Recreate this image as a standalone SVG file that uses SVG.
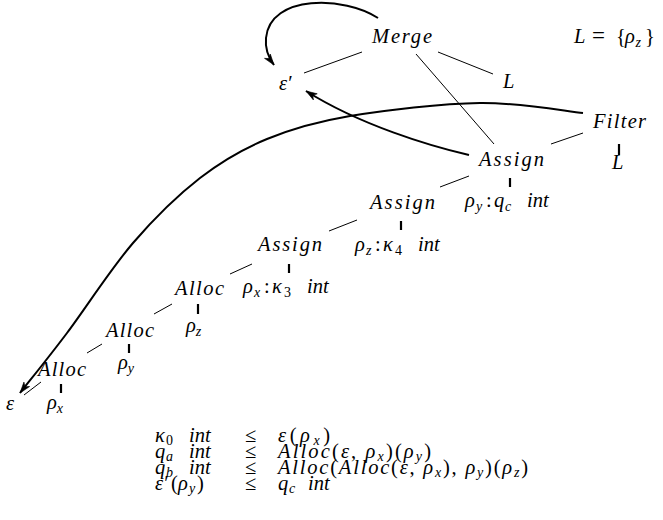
<svg xmlns="http://www.w3.org/2000/svg" width="663" height="520" viewBox="0 0 663 520">
<style>
.t{font-family:"Liberation Serif","Times New Roman",serif;font-style:italic;font-size:20.5px;fill:#000}
.r{font-style:normal}
.s{font-size:14px}
.le{font-size:23px}
.thin{stroke:#000;stroke-width:1;fill:none}
.tick{stroke:#000;stroke-width:2.2;fill:none}
.arr{stroke:#000;stroke-width:2;fill:none;marker-end:url(#ah)}
</style>
<defs>
<marker id="ah" viewBox="-13 -6 14 12" refX="0" refY="0" markerWidth="14" markerHeight="12" markerUnits="userSpaceOnUse" orient="auto">
<path d="M0,0 L-11,-3.6 L-8,0 L-11,3.6 Z" fill="#000" stroke="#000" stroke-width="0.6"/>
</marker>
</defs>
<rect width="663" height="520" fill="#fff"/>
<g id="connectors">
<line class="thin" x1="362" y1="52" x2="304" y2="73"/>
<line class="thin" x1="438" y1="52" x2="493" y2="74"/>
<line class="thin" x1="416" y1="54" x2="494" y2="144"/>
<line class="thin" x1="583" y1="133" x2="551" y2="144"/>
<line class="thin" x1="440" y1="187" x2="469" y2="176"/>
<line class="thin" x1="329" y1="231" x2="357" y2="220"/>
<line class="thin" x1="230" y1="274" x2="252" y2="264"/>
<line class="thin" x1="154" y1="314" x2="172" y2="304"/>
<line class="thin" x1="87" y1="353" x2="102" y2="344"/>
<line class="thin" x1="24" y1="395" x2="41" y2="382"/>
<line class="tick" x1="619" y1="144" x2="619" y2="155"/>
<line class="tick" x1="510" y1="178" x2="510" y2="187"/>
<line class="tick" x1="401" y1="221" x2="401" y2="230"/>
<line class="tick" x1="289" y1="264" x2="289" y2="273"/>
<line class="tick" x1="198" y1="304" x2="198" y2="314"/>
<line class="tick" x1="129" y1="344" x2="129" y2="353"/>
<line class="tick" x1="61" y1="384" x2="61" y2="393"/>
<path class="arr" d="M378,18 C345,-4 270,-6 266,38 C265,48 268,57 274,65"/>
<path class="arr" d="M469,155 C430,146 360,125 306,91"/>
<path class="arr" d="M583,113 C565.8,111.3 518.8,102.5 480,103 C441.2,103.5 385.5,110 350,116 C314.5,122 292,128.7 267,139 C242,149.3 222.3,160.7 200,178 C177.7,195.3 155.2,217.2 133,243 C110.8,268.8 85.8,308 67,333 C48.2,358 27.8,383 20,393"/>
</g>
<g id="merge"><text class="t" x="372" y="43" textLength="60" lengthAdjust="spacing">Merge</text></g>
<g id="Ldef"><text class="t" x="574" y="43">L<tspan class="r le" x="592">=</tspan><tspan class="r" x="616">{</tspan><tspan x="625">ρ</tspan><tspan class="s" x="635.5" dy="4">z</tspan><tspan class="r" x="645" dy="-4">}</tspan></text></g>
<g id="epsprime"><text class="t" x="279" y="90">ε′</text></g>
<g id="mergeL"><text class="t" x="503" y="88">L</text></g>
<g id="filter"><text class="t" x="593" y="128" textLength="53" lengthAdjust="spacing">Filter</text></g>
<g id="filterL"><text class="t" x="612" y="169">L</text></g>
<g id="assign1"><text class="t" x="479" y="166" textLength="65" lengthAdjust="spacing">Assign</text></g>
<g id="assign1c"><text class="t" x="465" y="207">ρ<tspan class="s" x="476" dy="4">y</tspan><tspan class="r" x="486" dy="-4">:</tspan><tspan x="494">q</tspan><tspan class="s" x="505" dy="4">c</tspan><tspan x="527" dy="-4">int</tspan></text></g>
<g id="assign2"><text class="t" x="370" y="209" textLength="65" lengthAdjust="spacing">Assign</text></g>
<g id="assign2c"><text class="t" x="355" y="251">ρ<tspan class="s" x="366" dy="4">z</tspan><tspan class="r" x="375" dy="-4">:</tspan><tspan x="383">κ</tspan><tspan class="r s" x="395" dy="4">4</tspan><tspan x="418" dy="-4">int</tspan></text></g>
<g id="assign3"><text class="t" x="258" y="251" textLength="64" lengthAdjust="spacing">Assign</text></g>
<g id="assign3c"><text class="t" x="243" y="293">ρ<tspan class="s" x="254" dy="4">x</tspan><tspan class="r" x="264" dy="-4">:</tspan><tspan x="272">κ</tspan><tspan class="r s" x="284" dy="4">3</tspan><tspan x="307" dy="-4">int</tspan></text></g>
<g id="alloc1"><text class="t" x="175" y="295" textLength="49" lengthAdjust="spacing">Alloc</text></g>
<g id="alloc1c"><text class="t" x="186" y="332">ρ<tspan class="s" dy="4">z</tspan></text></g>
<g id="alloc2"><text class="t" x="106" y="337" textLength="48" lengthAdjust="spacing">Alloc</text></g>
<g id="alloc2c"><text class="t" x="118" y="369">ρ<tspan class="s" dy="4">y</tspan></text></g>
<g id="alloc3"><text class="t" x="38" y="376" textLength="48" lengthAdjust="spacing">Alloc</text></g>
<g id="alloc3c"><text class="t" x="47" y="409">ρ<tspan class="s" dy="4">x</tspan></text></g>
<g id="eps"><text class="t" x="6" y="410">ε</text></g>
<g id="constraints">
<text class="t" x="155" y="442">κ<tspan class="r s" x="166" dy="3">0</tspan><tspan x="189" dy="-3">int</tspan></text>
<text class="t" x="155" y="458">q<tspan class="s" x="166" dy="3">a</tspan><tspan x="189" dy="-3">int</tspan></text>
<text class="t" x="155" y="474">q<tspan class="s" x="166" dy="3">b</tspan><tspan x="189" dy="-3">int</tspan></text>
<text class="t" x="155" y="490">ε′<tspan class="r" x="171">(</tspan><tspan x="178">ρ</tspan><tspan class="s" x="189" dy="3">y</tspan><tspan class="r" x="197" dy="-3">)</tspan></text>
<text class="t r" x="245" y="442">≤</text>
<text class="t r" x="245" y="458">≤</text>
<text class="t r" x="245" y="474">≤</text>
<text class="t r" x="245" y="490">≤</text>
<text class="t" x="278" y="442" textLength="52" lengthAdjust="spacing">ε<tspan class="r">(</tspan>ρ<tspan class="s" dy="3">x</tspan><tspan class="r" dy="-3">)</tspan></text>
<text class="t" x="278" y="458" textLength="153" lengthAdjust="spacing">Alloc<tspan class="r">(</tspan>ε<tspan class="r">, </tspan>ρ<tspan class="s" dy="3">x</tspan><tspan class="r" dy="-3">)(</tspan>ρ<tspan class="s" dy="3">y</tspan><tspan class="r" dy="-3">)</tspan></text>
<text class="t" x="278" y="474" textLength="250" lengthAdjust="spacing">Alloc<tspan class="r">(</tspan>Alloc<tspan class="r">(</tspan>ε<tspan class="r">, </tspan>ρ<tspan class="s" dy="3">x</tspan><tspan class="r" dy="-3">), </tspan>ρ<tspan class="s" dy="3">y</tspan><tspan class="r" dy="-3">)(</tspan>ρ<tspan class="s" dy="3">z</tspan><tspan class="r" dy="-3">)</tspan></text>
<text class="t" x="278" y="490">q<tspan class="s" x="289" dy="3">c</tspan><tspan x="308" dy="-3">int</tspan></text>
</g>
</svg>
